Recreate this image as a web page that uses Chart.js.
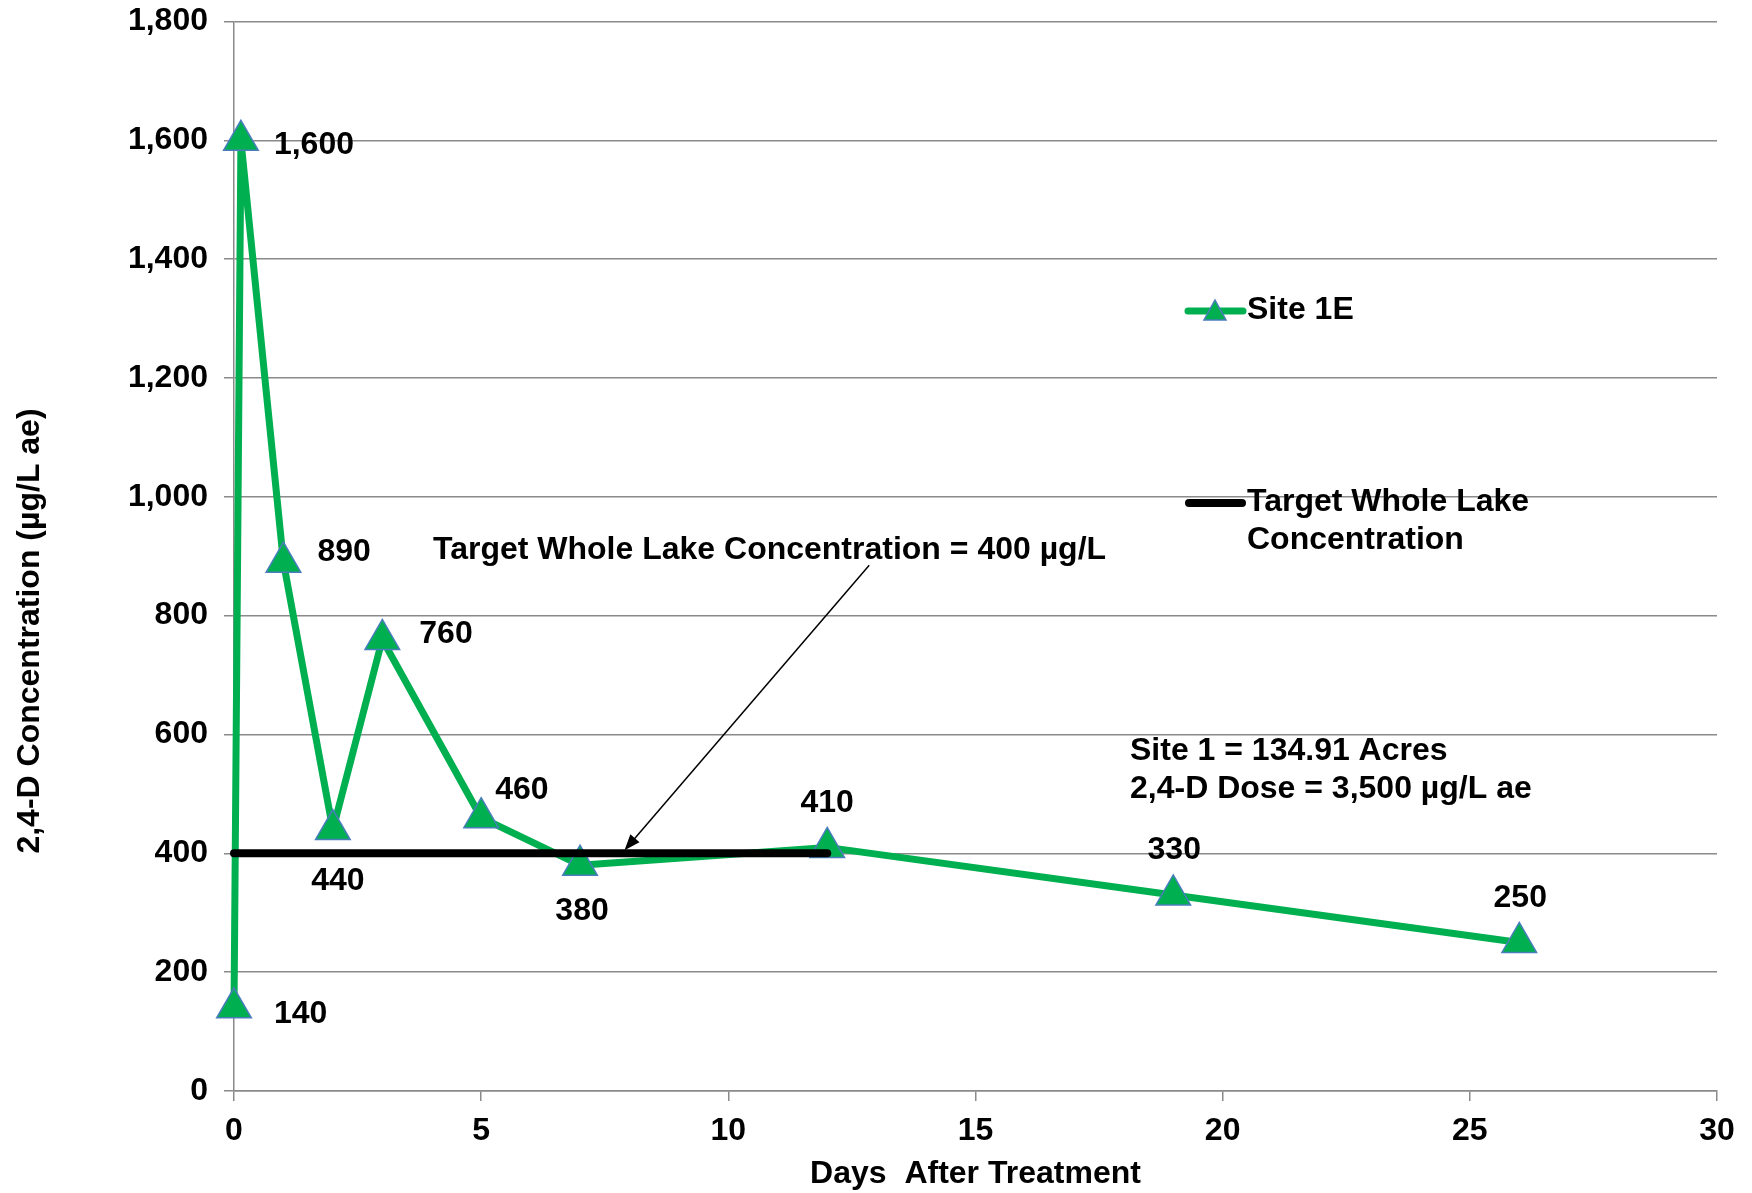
<!DOCTYPE html>
<html>
<head>
<meta charset="utf-8">
<script src="https://cdn.jsdelivr.net/npm/chart.js@4/dist/chart.umd.min.js"></script>
<style>
  html, body { margin: 0; padding: 0; background: #fff; }
  #wrap { width: 1752px; height: 1193px; }
</style>
</head>
<body>
<div id="wrap"><canvas id="chart" width="1752" height="1193"></canvas></div>
<script>
// Site 1E samples (days after treatment vs 2,4-D concentration)
const siteDays = [0, 0.14, 1, 2, 3, 5, 7, 12, 19, 26];
const siteValues = [140, 1600, 890, 440, 760, 460, 380, 410, 330, 250];

// target whole lake concentration line
const targetDays = [0, 12];
const targetValues = [400, 400];

const xTicks = [0, 5, 10, 15, 20, 25, 30];
const yTicks = [0, 200, 400, 600, 800, 1000, 1200, 1400, 1600, 1800];

const FONT = '"Liberation Sans", Arial, sans-serif';
const GREEN = '#00b050';
const GRID = '#8a8a8a';

// where each value label sits relative to its point: [dx, dy, align]
const labelOffsets = [
  [40, 6, 'left'], [33, 5, 'left'], [34, -10, 'left'], [5, 52, 'center'],
  [37, -5, 'left'], [14, -28, 'left'], [2, 46, 'center'], [0, -44, 'center'],
  [1, -45, 'center'], [1, -44, 'center']
];

const extras = {
  id: 'extras',
  afterDatasetsDraw(chart) {
    const ctx = chart.ctx;
    const xs = chart.scales.x, ys = chart.scales.y;
    ctx.save();
    ctx.fillStyle = '#000';
    ctx.textBaseline = 'middle';

    // value labels
    ctx.font = 'bold 32px ' + FONT;
    siteValues.forEach((v, i) => {
      const [dx, dy, align] = labelOffsets[i];
      ctx.textAlign = align;
      ctx.fillText(v.toLocaleString('en-US'), xs.getPixelForValue(siteDays[i]) + dx, ys.getPixelForValue(v) + dy);
    });

    // annotations
    ctx.textAlign = 'left';
    ctx.fillText('Target Whole Lake Concentration = 400 µg/L', 433, 550);
    ctx.fillText('Site 1 = 134.91 Acres', 1130, 751);
    ctx.fillText('2,4-D Dose = 3,500 µg/L ae', 1130, 789);

    // arrow pointing at the target line
    const x1 = xs.getPixelForValue(12.85), y1 = ys.getPixelForValue(885);
    const x2 = xs.getPixelForValue(7.9), y2 = ys.getPixelForValue(405);
    const ang = Math.atan2(y2 - y1, x2 - x1);
    ctx.strokeStyle = '#000';
    ctx.lineWidth = 1.5;
    ctx.beginPath();
    ctx.moveTo(x1, y1);
    ctx.lineTo(x2 - Math.cos(ang) * 10, y2 - Math.sin(ang) * 10);
    ctx.stroke();
    ctx.beginPath();
    ctx.moveTo(x2, y2);
    ctx.lineTo(x2 - Math.cos(ang) * 16 + Math.sin(ang) * 6, y2 - Math.sin(ang) * 16 - Math.cos(ang) * 6);
    ctx.lineTo(x2 - Math.cos(ang) * 16 - Math.sin(ang) * 6, y2 - Math.sin(ang) * 16 + Math.cos(ang) * 6);
    ctx.closePath();
    ctx.fill();

    // y axis title, sits a bit below the plot centre as in the original
    ctx.save();
    ctx.translate(30, 631);
    ctx.rotate(-Math.PI / 2);
    ctx.textAlign = 'center';
    ctx.fillText('2,4-D Concentration (µg/L ae)', 0, 0);
    ctx.restore();

    // legend
    ctx.lineCap = 'round';
    ctx.strokeStyle = GREEN;
    ctx.lineWidth = 7;
    ctx.beginPath();
    ctx.moveTo(1188, 311);
    ctx.lineTo(1243, 311);
    ctx.stroke();
    ctx.fillStyle = GREEN;
    ctx.strokeStyle = '#4a7ebb';
    ctx.lineWidth = 1.5;
    ctx.beginPath();
    ctx.moveTo(1215, 300);
    ctx.lineTo(1226, 320);
    ctx.lineTo(1204, 320);
    ctx.closePath();
    ctx.fill();
    ctx.stroke();

    ctx.strokeStyle = '#000';
    ctx.lineWidth = 8;
    ctx.beginPath();
    ctx.moveTo(1189, 503);
    ctx.lineTo(1242, 503);
    ctx.stroke();

    ctx.fillStyle = '#000';
    ctx.textAlign = 'left';
    ctx.fillText('Site 1E', 1247, 310);
    ctx.fillText('Target Whole Lake', 1247, 502);
    ctx.fillText('Concentration', 1247, 540);
    ctx.restore();
  }
};

new Chart(document.getElementById('chart'), {
  type: 'line',
  data: {
    datasets: [
      {
        label: 'Site 1E',
        data: siteDays.map((d, i) => ({ x: d, y: siteValues[i] })),
        borderColor: GREEN,
        borderWidth: 7,
        borderJoinStyle: 'round',
        tension: 0,
        pointStyle: 'triangle',
        pointRadius: 20,
        pointBackgroundColor: GREEN,
        pointBorderColor: '#4a7ebb',
        pointBorderWidth: 1.5,
        clip: false,
        order: 2
      },
      {
        label: 'Target Whole Lake Concentration',
        data: targetDays.map((d, i) => ({ x: d, y: targetValues[i] })),
        borderColor: '#000',
        borderWidth: 8,
        borderCapStyle: 'round',
        pointRadius: 0,
        clip: false,
        order: 1
      }
    ]
  },
  options: {
    responsive: false,
    animation: false,
    devicePixelRatio: 1,
    layout: { padding: { top: 20, right: 35, left: 0, bottom: 0 } },
    plugins: { legend: { display: false }, tooltip: { enabled: false } },
    scales: {
      x: {
        type: 'linear',
        min: 0,
        max: 30,
        afterBuildTicks: s => { s.ticks = xTicks.map(v => ({ value: v })); },
        afterFit: s => { s.height = 102; },
        grid: { drawOnChartArea: false, drawTicks: true, tickLength: 10, color: GRID, lineWidth: 1.5 },
        border: { display: true, color: GRID, width: 1.5 },
        ticks: { color: '#000', padding: 11, maxRotation: 0, font: { family: FONT, size: 32, weight: 'bold' } },
        title: {
          display: true,
          text: 'Days  After Treatment',
          color: '#000',
          padding: { top: 0, bottom: 0 },
          font: { family: FONT, size: 32, weight: 'bold' }
        }
      },
      y: {
        min: 0,
        max: 1800,
        afterBuildTicks: s => { s.ticks = yTicks.map(v => ({ value: v })); },
        afterFit: s => { s.width = 234; s.paddingTop = 0; s.paddingBottom = 0; },
        grid: { color: GRID, lineWidth: 1.5, tickLength: 10 },
        border: { display: true, color: GRID, width: 1.5 },
        ticks: {
          color: '#000',
          padding: 16,
          font: { family: FONT, size: 32, weight: 'bold' },
          callback: v => v.toLocaleString('en-US')
        }
      }
    }
  },
  plugins: [extras]
});
</script>
</body>
</html>
